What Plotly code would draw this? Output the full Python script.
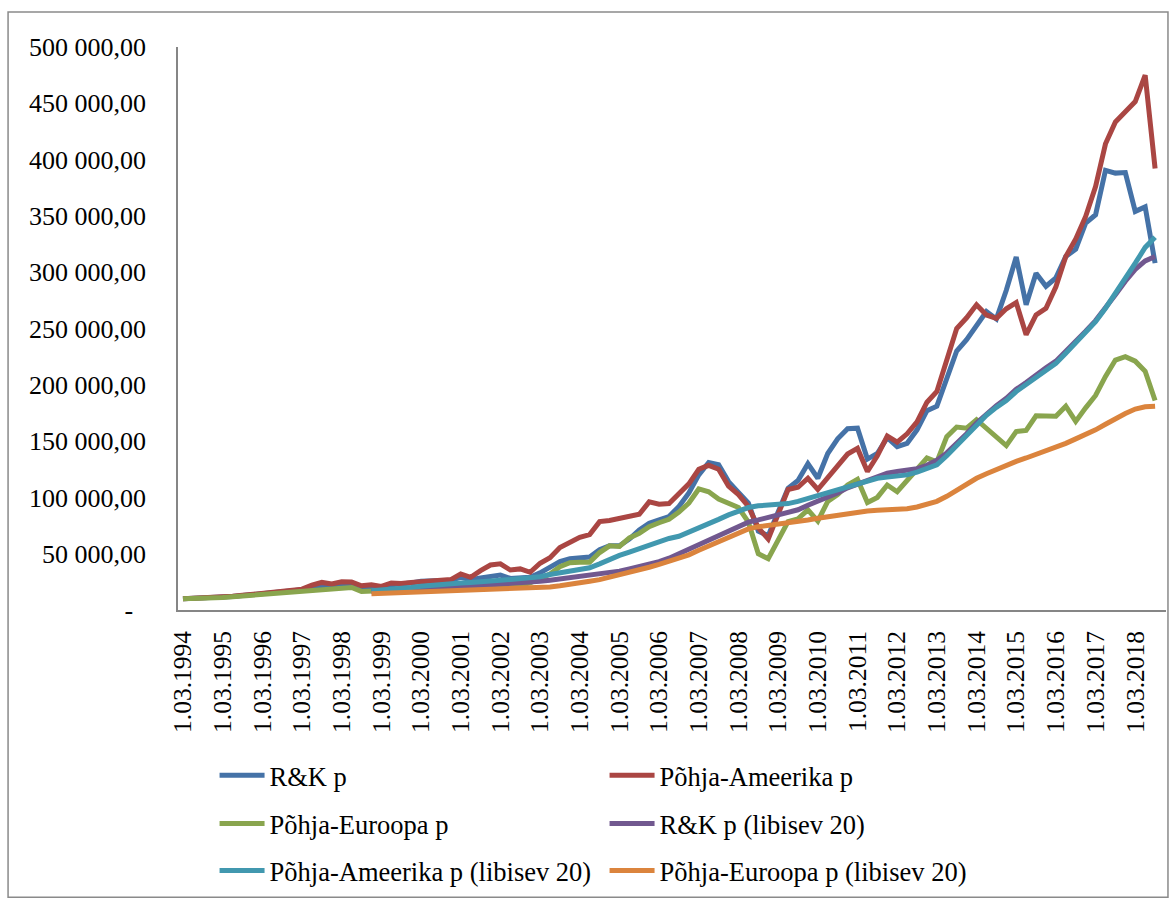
import plotly.graph_objects as go

# ---------------- data ----------------
years = list(range(1994, 2019))
months = ["03", "06", "09", "12"]
categories = [f"1.{m}.{y}" for y in years for m in months][:99]   # 1.03.1994 ... 1.09.2018
tick_labels = [f"1.03.{y}" for y in years]

y_tick_values = [0, 50000, 100000, 150000, 200000, 250000, 300000, 350000, 400000, 450000, 500000]
y_tick_labels = ["-\u00a0\u00a0", "50 000,00", "100 000,00", "150 000,00", "200 000,00",
                 "250 000,00", "300 000,00", "350 000,00", "400 000,00", "450 000,00", "500 000,00"]

# values in thousands
rk_p = [10, 10.2, 10.5, 10.8, 11.3, 12, 12.8, 13.5, 14.2, 15,
        15.8, 16.8, 18, 19.5, 21.5, 21.5, 22.5, 22.5, 20.5, 21,
        20.5, 22.5, 23, 24, 25.5, 26, 26.5, 26.5, 29, 27,
        28.5, 30, 31, 28, 28.5, 29, 33, 38, 43, 45.5,
        46.5, 47, 53.5, 57, 57, 63, 71, 77, 80, 83,
        92, 104, 120, 131, 129, 114, 104.5, 95, 70, 66,
        87, 108, 115, 130, 117, 139, 152, 161, 161.5, 134,
        139, 153, 145, 148, 160, 177, 181, 205, 230, 240,
        253, 265, 258.5, 284, 313.5, 271, 299, 287.5, 295, 314,
        320.5, 343.5, 351, 390.5, 388, 388.5, 354, 358, 308]

pohja_ameerika_p = [10, 10.3, 10.5, 10.8, 11.5, 12.2, 13, 13.8, 14.5, 15.2,
                    16, 17, 18.5, 22, 24.5, 23.2, 25, 24.8, 21.5, 22.5,
                    21, 24, 23.5, 24.5, 25, 26, 26.5, 27, 32, 29,
                    35, 40, 41, 35.5, 36.5, 33.5, 41.5, 46.5, 55.5, 60.5,
                    64.5, 67, 78.5, 79.5, 81.5, 83.5, 85, 96, 94, 94.5,
                    104, 112, 125, 128.5, 125, 110, 102.5, 92, 73, 63,
                    85, 107, 109, 117, 107, 118, 128, 138.5, 143.5, 123,
                    137, 154.5, 149, 156.5, 167, 184.5, 194, 222, 250, 259.5,
                    271, 262, 259, 267.5, 273, 244.5, 262, 268, 287, 314,
                    329.5, 349.5, 376, 414, 433.5, 442.5, 451.5, 475, 392]

pohja_euroopa_p = [10, 10, 10.2, 10.5, 11, 11.8, 12.5, 13.2, 14, 14.8,
                   15.5, 16.2, 17, 17.2, 17.5, 18.5, 20, 20, 16.5, 16.5,
                   17, 17.5, 18, 18.5, 19, 19.5, 20, 20, 21, 20,
                   21, 22, 22.5, 21.5, 22, 24, 28, 32, 38.5, 42,
                   42.5, 42.5, 51, 57, 56.5, 64, 68, 74, 77.5, 80.5,
                   87, 95, 107.5, 105, 98.5, 95, 91, 78, 50, 45.5,
                   62, 78.5, 81, 89, 79, 96.5, 102.5, 111, 116, 95.5,
                   100, 111, 105, 114.5, 124.5, 135, 131.5, 154, 162.5, 161.5,
                   169, 161.5, 154, 146, 158.5, 159.5, 172.5, 172, 172, 181,
                   167.5, 179.5, 190.5, 207.5, 222, 225, 221, 212, 186]

rk_p_lib20 = [None] * 19 + [
    16.5, 16.8, 17, 17.3, 17.6, 18, 18.8, 19.5, 20, 20.5,
    21, 21.5, 22, 22.5, 23, 23.5, 24.5, 25.5, 26.5, 27.5,
    28.5, 29.5, 30.5, 31.5, 33, 34.5, 36.5, 38.5, 40.5, 43,
    46, 50, 54, 58.5, 62, 66.5, 71, 75, 78, 80,
    82, 84, 86.5, 89, 93, 96.5, 100, 104, 108.5, 112,
    115.5, 119, 121.5, 123, 124, 125.5, 128.5, 133, 139.5, 147.5,
    156.5, 166, 174.5, 181.5, 188, 196, 202, 209, 215, 221,
    229.5, 238.5, 247.5, 257, 268, 280, 292, 302.5, 310, 314]

pohja_ameerika_p_lib20 = [None] * 19 + [
    17, 17.5, 18, 19, 20, 21, 22, 22.5, 23.5, 24,
    24.5, 25.5, 26, 26.5, 27, 27.5, 28.5, 29.5, 31.5, 33,
    34.5, 36, 37.5, 41, 45, 48.5, 51.5, 54.5, 58, 61,
    63.5, 65.5, 69, 73.5, 76.5, 80.5, 84.5, 88, 91, 92.5,
    93, 93.5, 94.5, 96.5, 99, 101.5, 104, 107, 110, 112.5,
    115, 117, 118, 118.5, 120, 122.5, 125.5, 129, 137, 146,
    155, 165, 173, 180, 186, 194, 200, 207, 213, 219,
    228, 237, 246, 256, 268, 281, 294, 308, 322, 331]

pohja_euroopa_p_lib20 = [None] * 19 + [
    14.5, 14.8, 15, 15.3, 15.5, 15.8, 16.2, 16.7, 17, 17.3,
    17.5, 17.8, 18, 18.3, 18.5, 18.8, 19.2, 19.8, 20.5, 21.5,
    22.5, 24, 25.5, 27, 29, 31, 33, 35.5, 38, 40.5,
    43, 45.5, 49, 53, 57, 61, 65, 69, 72, 74,
    75, 76, 77, 78.5, 80, 81.5, 83, 84.5, 86, 87,
    88, 88.5, 89, 89, 90, 91.5, 93.5, 96.5, 101, 106.5,
    112, 117, 121, 125, 128.5, 132, 135, 138, 141, 144,
    148, 152, 155.5, 160, 165, 170, 174.5, 178.5, 180.5, 181]

series_names = ["R&K p", "Põhja-Ameerika p", "Põhja-Euroopa p",
                "R&K p (libisev 20)", "Põhja-Ameerika p (libisev 20)", "Põhja-Euroopa p (libisev 20)"]
series_values = [rk_p, pohja_ameerika_p, pohja_euroopa_p,
                 rk_p_lib20, pohja_ameerika_p_lib20, pohja_euroopa_p_lib20]
series_colors = ["#4572A7", "#AA4643", "#89A54E", "#71588F", "#4198AF", "#DB843D"]
legend_rows = ["legend", "legend", "legend2", "legend2", "legend3", "legend3"]

FONT = "Liberation Serif, Times New Roman, serif"

fig = go.Figure()
for name, vals, color, lg in zip(series_names, series_values, series_colors, legend_rows):
    fig.add_trace(go.Scatter(
        x=categories,
        y=[v * 1000 if v is not None else None for v in vals],
        mode="lines", name=name, legend=lg,
        line=dict(color=color, width=5),
    ))


def legend_row(ypos):
    return dict(
        orientation="h", x=0.037, xanchor="left", y=ypos, yanchor="top",
        entrywidth=330, entrywidthmode="pixels", itemwidth=45,
        font=dict(family=FONT, size=26.5, color="black"),
        bgcolor="rgba(0,0,0,0)", traceorder="normal",
    )


fig.update_layout(
    width=1170, height=899,
    margin=dict(l=178, r=4, t=47, b=289),
    paper_bgcolor="white", plot_bgcolor="white",
    font=dict(family=FONT, size=25, color="black"),
    showlegend=True,
    legend=legend_row(-0.2515),
    legend2=legend_row(-0.337),
    legend3=legend_row(-0.4205),
    xaxis=dict(
        type="category", categoryorder="array", categoryarray=categories,
        range=[-0.5, 99.1],
        tickmode="array", tickvals=tick_labels, ticktext=tick_labels,
        tickangle=-90, ticks="", ticklabelstandoff=9,
        showline=True, linecolor="#868686", linewidth=1.5,
        showgrid=False, zeroline=False,
        tickfont=dict(family=FONT, size=25.5, color="black"),
    ),
    yaxis=dict(
        range=[0, 500000],
        tickmode="array", tickvals=y_tick_values, ticktext=y_tick_labels,
        ticks="", ticklabelstandoff=25,
        showline=True, linecolor="#868686", linewidth=1.5,
        showgrid=False, zeroline=False,
        tickfont=dict(family=FONT, size=26, color="black"),
    ),
    shapes=[dict(
        type="rect", xref="paper", yref="paper",
        x0=-0.172, x1=1.002, y0=-0.51, y1=1.062,
        line=dict(color="#8a8a8a", width=1.5), fillcolor="rgba(0,0,0,0)",
        layer="below",
    )],
)

fig.write_html("out.html")
